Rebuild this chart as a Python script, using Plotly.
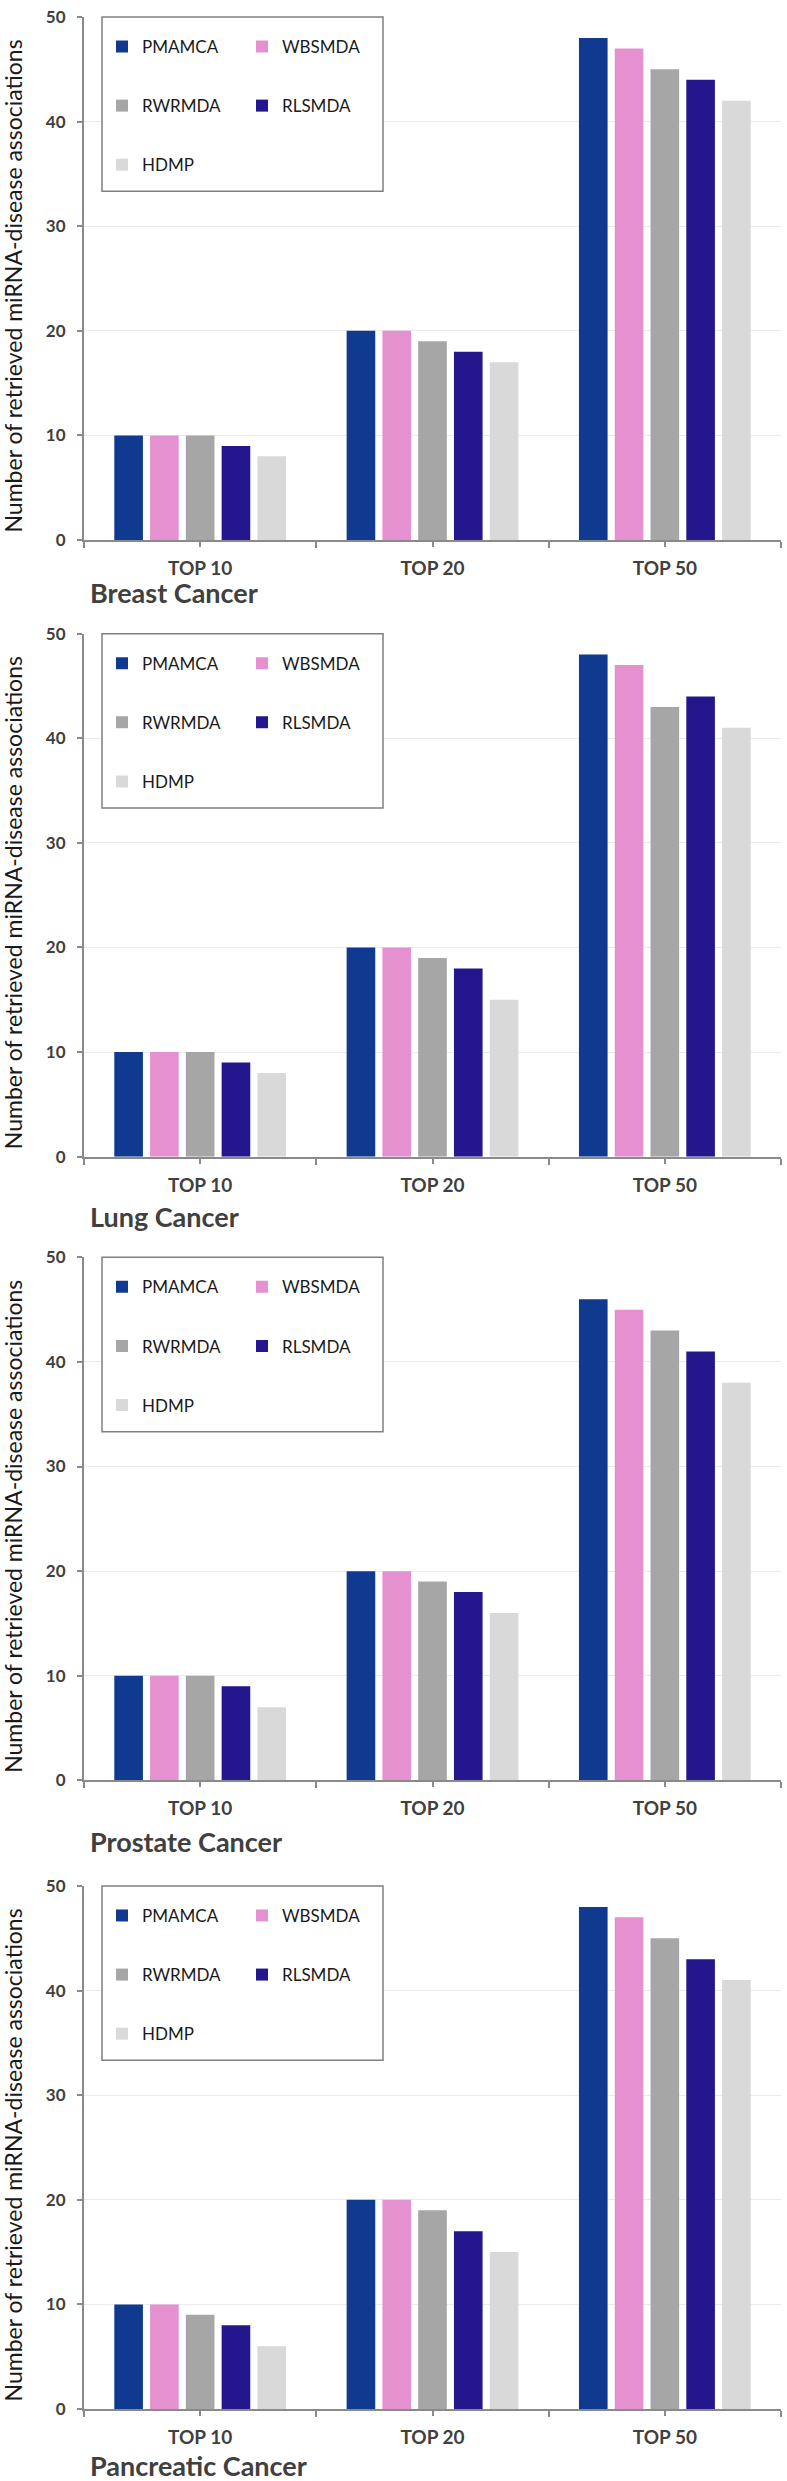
import plotly.graph_objects as go

# ---------------- data ----------------
CATEGORIES = ["TOP 10", "TOP 20", "TOP 50"]
METHODS = ["PMAMCA", "WBSMDA", "RWRMDA", "RLSMDA", "HDMP"]
COLORS = ["#0F3A8F", "#E591CF", "#A6A6A6", "#24168C", "#D9D9D9"]
Y_TICKS = [0, 10, 20, 30, 40, 50]
PANEL_TITLES = ["Breast Cancer", "Lung Cancer", "Prostate Cancer", "Pancreatic Cancer"]
Y_TITLE = "Number of retrieved miRNA-disease associations"

# rows = methods (same order as METHODS), columns = CATEGORIES
BREAST = [[10, 20, 48], [10, 20, 47], [10, 19, 45], [9, 18, 44], [8, 17, 42]]
LUNG = [[10, 20, 48], [10, 20, 47], [10, 19, 43], [9, 18, 44], [8, 15, 41]]
PROSTATE = [[10, 20, 46], [10, 20, 45], [10, 19, 43], [9, 18, 41], [7, 16, 38]]
PANCREATIC = [[10, 20, 48], [10, 20, 47], [9, 19, 45], [8, 17, 43], [6, 15, 41]]
PANELS = [BREAST, LUNG, PROSTATE, PANCREATIC]

# ---------------- geometry (pixels) ----------------
W, H = 787, 2481
ML, MR, MT, MB = 84, 6, 8, 72
PW, PH = W - ML - MR, H - MT - MB
PANEL_PIX = [(8, 533), (627, 1152), (1253, 1778), (1884, 2409)]
TITLE_Y = [586, 1212, 1839, 2466]


def py(p):
    return 1 - (p - MT) / PH


def px(p):
    return (p - ML) / PW


X_POS = list(range(len(CATEGORIES)))
BOUNDS = [i - 0.5 for i in range(len(CATEGORIES) + 1)]

TXT = "#404040"
AXC = "#8A8A8A"

fig = go.Figure()
layout = dict(
    width=W, height=H,
    margin=dict(l=ML, r=MR, t=MT, b=MB),
    paper_bgcolor="white", plot_bgcolor="white",
    barmode="group", bargap=0.23, bargroupgap=0.2,
    showlegend=True,
    font=dict(family="Lato", color=TXT),
    annotations=[], shapes=[],
)

for k, data in enumerate(PANELS):
    top, bot = PANEL_PIX[k]
    sx = "" if k == 0 else str(k + 1)
    lname_l = "legend" if k == 0 else f"legend{2 * k + 1}"
    lname_r = f"legend{2 * k + 2}"
    for j, m in enumerate(METHODS):
        fig.add_trace(go.Bar(
            x=X_POS, y=data[j], name=m,
            marker=dict(color=COLORS[j], line=dict(width=0)),
            xaxis="x" + sx, yaxis="y" + sx,
            legend=lname_l if j % 2 == 0 else lname_r,
            legendgroup=f"p{k}-{m}",
            hoverinfo="skip",
        ))
    layout["xaxis" + sx] = dict(
        domain=[0, 1], anchor="y" + sx, range=[-0.5, len(CATEGORIES) - 0.5],
        tickmode="array", tickvals=X_POS, ticktext=CATEGORIES,
        ticks="outside", ticklen=5, tickwidth=1.5, tickcolor=AXC,
        minor=dict(tickmode="array", tickvals=BOUNDS, ticks="outside", ticklen=6,
                   tickwidth=1.5, tickcolor=AXC, showgrid=False),
        showline=True, linecolor=AXC, linewidth=2, showgrid=False, zeroline=False,
        tickfont=dict(family="Lato", size=19, color=TXT, weight=700),
        ticklabelstandoff=5, fixedrange=True,
    )
    layout["yaxis" + sx] = dict(
        domain=[py(bot), py(top)], anchor="x" + sx, range=[0, 50],
        tickmode="array", tickvals=Y_TICKS,
        ticks="outside", ticklen=5, tickwidth=1.5, tickcolor=AXC,
        showline=True, linecolor=AXC, linewidth=2,
        showgrid=True, gridcolor="#EBEBEB", gridwidth=1, zeroline=False,
        tickfont=dict(family="Lato", size=17, color=TXT, weight=700),
        ticklabelstandoff=8, fixedrange=True,
    )
    # legend frame
    layout["shapes"].append(dict(
        type="rect", xref=f"x{sx} domain", yref=f"y{sx} domain",
        x0=(102 - ML) / PW, x1=(383 - ML) / PW, y0=1 - 175 / (bot - top), y1=1,
        line=dict(color="#808080", width=1.5), fillcolor="white", layer="above",
    ))
    for lname, xpix in ((lname_l, 102), (lname_r, 242)):
        layout[lname] = dict(
            x=px(xpix), y=py(top + 12), xanchor="left", yanchor="top",
            xref="paper", yref="paper",
            bgcolor="rgba(0,0,0,0)", borderwidth=0,
            font=dict(family="Lato", size=17, color="#1A1A1A"),
            tracegroupgap=34, orientation="v",
            itemclick=False, itemdoubleclick=False,
        )
    # panel title
    layout["annotations"].append(dict(
        text=PANEL_TITLES[k], xref="paper", yref="paper",
        x=px(88), y=py(TITLE_Y[k]), xanchor="left", yanchor="middle",
        showarrow=False, font=dict(family="Lato", size=27, color=TXT, weight=700),
    ))
    # y-axis title
    layout["annotations"].append(dict(
        text=Y_TITLE, xref="paper", yref="paper",
        x=px(13), y=py((top + bot) / 2 + 8), xanchor="center", yanchor="middle",
        textangle=-90, showarrow=False,
        font=dict(family="Lato", size=23, color="#1A1A1A"),
    ))

fig.update_layout(**layout)
fig.write_html("out.html", config={"displayModeBar": False},
               post_script="document.body.style.margin='0px';")
